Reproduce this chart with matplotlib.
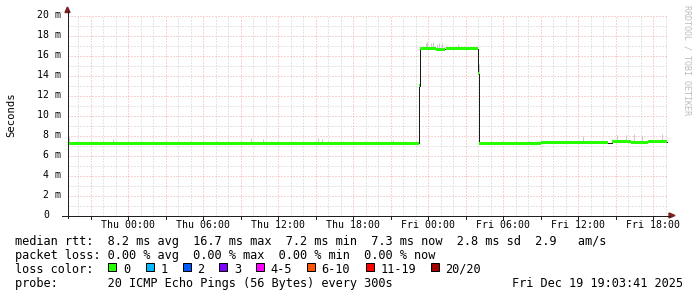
import numpy as np
from matplotlib import pyplot as plt
from matplotlib.patches import Polygon, Rectangle
from matplotlib.lines import Line2D
from matplotlib.transforms import blended_transform_factory

# time axis in hours relative to Thu 00:00, value axis in ms
t_start = -4.84
t_end = 43.16

# median rtt as steps: start hour of each step and its value
median_t = [-4.84, 23.26, 23.36, 24.6, 25.4, 26.4, 27.98, 28.06, 33.0, 38.42, 38.74, 40.2, 41.6]
median_ms = [7.25, 13.0, 16.68, 16.62, 16.72, 16.66, 14.2, 7.25, 7.27, 7.3, 7.38, 7.33, 7.4]
# stretch of the median without a loss colour band
band_gap = (38.42, 38.74)

# smoke (ping spread) drawn as thin gray spikes
smoke_t = [-4.7, -1.2, 9.8, 10.8, 15.2, 15.5, 21.2, 23.8, 23.95, 24.2, 24.4, 24.75, 24.9, 25.1, 26.4,
           28.04, 28.06, 36.4, 39.1, 39.8, 40.5, 41.1, 42.7]
smoke_lo = [7.25, 7.25, 7.25, 7.25, 7.25, 7.25, 7.25, 16.68, 16.68, 16.68, 16.68, 16.68, 16.68, 16.68, 16.7,
            7.5, 14.2, 7.3, 7.4, 7.35, 7.4, 7.35, 7.4]
smoke_hi = [7.9, 7.7, 7.8, 7.7, 7.8, 7.7, 7.6, 17.3, 17.4, 17.3, 17.4, 17.2, 17.3, 17.3, 17.2,
            10.0, 15.2, 8.0, 8.1, 8.1, 8.2, 8.0, 8.2]

# axis labels
xlabel_hours = [0, 6, 12, 18, 24, 30, 36, 42]
xlabel_text = ['Thu 00:00', 'Thu 06:00', 'Thu 12:00', 'Thu 18:00',
               'Fri 00:00', 'Fri 06:00', 'Fri 12:00', 'Fri 18:00']
ylabel_values = [0, 2, 4, 6, 8, 10, 12, 14, 16, 18, 20]

# legend
loss_labels = ['0', '1', '2', '3', '4-5', '6-10', '11-19', '20/20']
loss_colors = ['#26ff00', '#00b8ff', '#0059ff', '#7e00ff', '#ff00ff', '#ff5500', '#ff0000', '#a10000']
loss_box_x = [108.3, 145.7, 182.7, 219.3, 256.0, 306.7, 366.0, 430.7]
legend_lines = [
    'median rtt:  8.2 ms avg  16.7 ms max  7.2 ms min  7.3 ms now  2.8 ms sd  2.9   am/s',
    'packet loss: 0.00 % avg  0.00 % max  0.00 % min  0.00 % now',
    'loss color:',
    'probe:       20 ICMP Echo Pings (56 Bytes) every 300s',
]
stamp = 'Fri Dec 19 19:03:41 2025'

W, H = 697, 297
MONO = 'DejaVu Sans Mono'


def fx(x):
    return x / W


def fy(y):
    return 1 - y / H


fig = plt.figure(figsize=(W / 100, H / 100), dpi=100, facecolor='white')
ax = fig.add_axes([fx(67.5), (H - 215.5) / H, 600 / W, 200 / H])
ax.set_xlim(t_start, t_end)
ax.set_ylim(0, 20)
for s in ax.spines.values():
    s.set_visible(False)

# grid: minor every hour / 1 ms, major every 3 hours / 2 ms
ax.set_xticks(np.arange(-3, 43, 3))
ax.set_xticks(np.arange(-4, 44, 1), minor=True)
ax.set_yticks(ylabel_values)
ax.set_yticks(np.arange(1, 21, 2), minor=True)
ax.tick_params(which='both', length=0, labelbottom=False, labelleft=False)
ax.grid(which='minor', color='#cccccc', linestyle=(0, (1, 2)), linewidth=0.72)
ax.grid(which='major', color='#efabab', linestyle=(0, (1, 2)), linewidth=0.72)
ax.set_axisbelow(True)

# smoke spikes
ax.vlines(smoke_t, smoke_lo, smoke_hi, color='#c8c8c8', linewidth=0.72, zorder=1)

# median: thin black step line, green band on top
t_steps = np.array(median_t + [t_end])
v_steps = np.array(median_ms + [median_ms[-1]])
ax.step(t_steps, v_steps, where='post', color='#1a1a1a', linewidth=0.72, zorder=2)

# loss colour band, one bar per step (skipping the gap)
left = np.array(median_t)
width = np.diff(t_steps)
vals = np.array(median_ms)
keep = ~((left >= band_gap[0]) & (left < band_gap[1]))
ax.bar(left[keep], 0.3, width=width[keep], bottom=vals[keep] - 0.15, align='edge',
       color=loss_colors[0], linewidth=0, zorder=3)

# axis lines and arrows
fig.add_artist(Line2D([fx(62), fx(670)], [fy(215.5), fy(215.5)], color='#1f1f1f', linewidth=0.72))
fig.add_artist(Line2D([fx(67.5), fx(67.5)], [fy(218), fy(11)], color='#1f1f1f', linewidth=0.72))
fig.add_artist(Polygon([(fx(669), fy(213)), (fx(669), fy(218)), (fx(675), fy(215.5))],
                       closed=True, color='#7f1f1f', transform=fig.transFigure))
fig.add_artist(Polygon([(fx(65), fy(12.5)), (fx(70), fy(12.5)), (fx(67.5), fy(7))],
                       closed=True, color='#7f1f1f', transform=fig.transFigure))

# x ticks below the axis at the major lines
xt = blended_transform_factory(ax.transData, fig.transFigure)
for h in np.arange(-3, 43, 3):
    fig.add_artist(Line2D([h, h], [fy(215.5), fy(218.5)], color='#1f1f1f', linewidth=0.72, transform=xt))

# tick labels
for h, lab in zip(xlabel_hours, xlabel_text):
    fig.text(h, fy(228), lab, transform=xt, ha='center', va='baseline', family=MONO, fontsize=7.1)
yt = blended_transform_factory(fig.transFigure, ax.transData)
for v in ylabel_values:
    if v == 0:
        fig.text(fx(61 - 2 * 5.95), v, '0', transform=yt, ha='right', va='center', family=MONO, fontsize=7.1)
    else:
        fig.text(fx(61), v, f'{v} m', transform=yt, ha='right', va='center', family=MONO, fontsize=7.1)

fig.text(fx(11), fy(115), 'Seconds', rotation=90, ha='center', va='center', family=MONO, fontsize=7.6)
fig.text(fx(687.5), fy(5), 'RRDTOOL / TOBI OETIKER', rotation=270, ha='center', va='top',
         family=MONO, fontsize=6.0, color='#bcbcbc')

# legend rows
baselines = [245, 259, 273, 287]
for y, line in zip(baselines, legend_lines):
    fig.text(fx(15), fy(y), line, ha='left', va='baseline', family=MONO, fontsize=8.55)
for x, lab, col in zip(loss_box_x, loss_labels, loss_colors):
    fig.add_artist(Rectangle((fx(x), fy(271)), 8 / W, 8 / H, facecolor=col, edgecolor='black',
                             linewidth=0.72, transform=fig.transFigure))
    fig.text(fx(x + 14.5), fy(273), lab, ha='left', va='baseline', family=MONO, fontsize=8.55)
fig.text(fx(512.5), fy(287), stamp, ha='left', va='baseline', family=MONO, fontsize=8.55)

plt.savefig('out.png', dpi=100, facecolor='white')
